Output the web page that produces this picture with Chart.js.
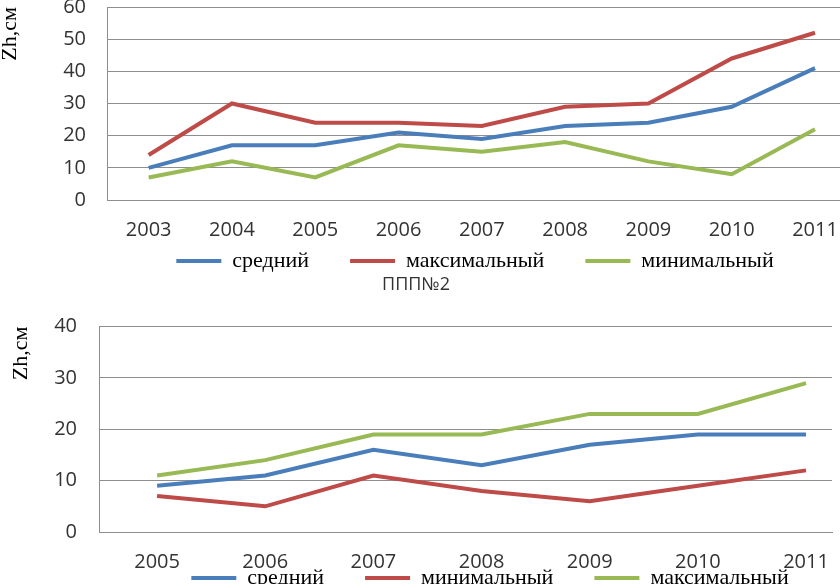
<!DOCTYPE html>
<html><head><meta charset="utf-8">
<script src="https://cdn.jsdelivr.net/npm/chart.js@4"></script>
<style>
html,body{margin:0;padding:0;background:#fff;overflow:hidden;width:840px;height:584px;}
.box{position:absolute;left:0;width:840px;}
#w1{top:-5px;height:320px;}
#w2{top:274px;height:373px;}
</style></head><body>
<div class="box" id="w1"><canvas id="c1"></canvas></div>
<div class="box" id="w2"><canvas id="c2"></canvas></div>
<script>
// ---- data: chart 1 ----
const years1 = [2003, 2004, 2005, 2006, 2007, 2008, 2009, 2010, 2011];
const avg1 = [10, 17, 17, 21, 19, 23, 24, 29, 41];
const max1 = [14, 30, 24, 24, 23, 29, 30, 44, 52];
const min1 = [7, 12, 7, 17, 15, 18, 12, 8, 22];
const yTicks1 = [0, 10, 20, 30, 40, 50, 60];
const names1 = ['средний', 'максимальный', 'минимальный'];

// ---- data: chart 2 ----
const years2 = [2005, 2006, 2007, 2008, 2009, 2010, 2011];
const avg2 = [9, 11, 16, 13, 17, 19, 19];
const min2 = [7, 5, 11, 8, 6, 9, 12];
const max2 = [11, 14, 19, 19, 23, 23, 29];
const yTicks2 = [0, 10, 20, 30, 40];
const names2 = ['средний', 'минимальный', 'максимальный'];
const title2 = 'ППП№2';
const yTitle = 'Zh,см';

const BLUE = '#4A7EBB', RED = '#BE4B48', GREEN = '#98B954';
const GRID = '#8e8e8e';
const TICK_COLOR = '#333333';

Chart.defaults.font.family = 'Open Sans';

const legendOffset = {
  id: 'legendOffset',
  afterLayout(chart, args, opts) {
    const l = chart.legend;
    if (!l) return;
    const dx = opts.dx || 0, dy = opts.dy || 0;
    l.left += dx; l.right += dx; l.top += dy; l.bottom += dy;
  }
};

function pts(xs, ys) { return xs.map((x, i) => ({x: x, y: ys[i]})); }
function ds(label, xs, ys, color) {
  return {label: label, data: pts(xs, ys), borderColor: color, backgroundColor: color,
    borderWidth: 4, pointRadius: 0, pointHoverRadius: 0, tension: 0, fill: false, pointStyle: 'line'};
}

function makeChart(id, cfg) {
  return new Chart(document.getElementById(id), {
    type: 'line',
    data: {datasets: cfg.datasets},
    plugins: [legendOffset],
    options: {
      responsive: true, maintainAspectRatio: false, animation: false,
      layout: {padding: cfg.padding},
      scales: {
        x: {
          type: 'linear', min: cfg.xmin, max: cfg.xmax,
          afterBuildTicks: s => { s.ticks = cfg.years.map(v => ({value: v})); },
          ticks: {callback: v => String(v), font: {size: 20}, color: TICK_COLOR, padding: 0, maxRotation: 0, autoSkip: false},
          grid: {display: true, drawOnChartArea: false, color: 'transparent', tickLength: 18, tickColor: 'transparent'},
          border: {display: true, color: GRID, width: 1},
          afterFit: s => { s.height = cfg.xh; }
        },
        y: {
          min: 0, max: cfg.ymax,
          afterBuildTicks: s => { s.ticks = cfg.yTicks.map(v => ({value: v})); },
          ticks: {font: {size: 20}, color: TICK_COLOR, padding: 0},
          grid: {color: GRID, lineWidth: 1, tickLength: cfg.ytl, tickColor: 'transparent'},
          border: {display: true, color: GRID, width: 1},
          title: {display: true, text: yTitle, align: 'end', color: '#000',
            font: {family: 'Liberation Serif', size: 22, weight: 'normal'}, padding: {top: cfg.titlePad, bottom: 0}},
          afterFit: s => { s.width = cfg.yw; }
        }
      },
      plugins: {
        title: cfg.title ? {display: true, text: cfg.title, color: '#333', font: {family: 'Open Sans', size: 18, weight: 'normal'}, padding: {top: 0, bottom: cfg.titleBottom}} : {display: false},
        legend: {
          position: 'bottom',
          labels: {usePointStyle: true, pointStyle: 'line', pointStyleWidth: 45, boxHeight: 22, padding: 41, color: '#000',
            font: {family: 'Liberation Serif', size: 22, weight: 'normal'}}
        },
        legendOffset: {dx: cfg.ldx, dy: cfg.ldy},
        tooltip: {enabled: false}
      }
    }
  });
}

makeChart('c1', {
  datasets: [ds(names1[0], years1, avg1, BLUE), ds(names1[1], years1, max1, RED), ds(names1[2], years1, min1, GREEN)],
  years: years1, yTicks: yTicks1, ymax: 60,
  xmin: 2002.5, xmax: 2011.3, xh: 42, yw: 107, ytl: 21, titlePad: -3,
  padding: {left: 0, right: 0, top: 0, bottom: 0},
  ldx: 55, ldy: -33
});

makeChart('c2', {
  datasets: [ds(names2[0], years2, avg2, BLUE), ds(names2[1], years2, min2, RED), ds(names2[2], years2, max2, GREEN)],
  years: years2, yTicks: yTicks2, ymax: 40,
  xmin: 2004.463, xmax: 2011.24, xh: 42, yw: 99, ytl: 22, titlePad: 8,
  title: title2, titleBottom: 31,
  padding: {left: 0, right: 8, top: 0, bottom: 0},
  ldx: 74, ldy: -48
});
</script>
</body></html>
